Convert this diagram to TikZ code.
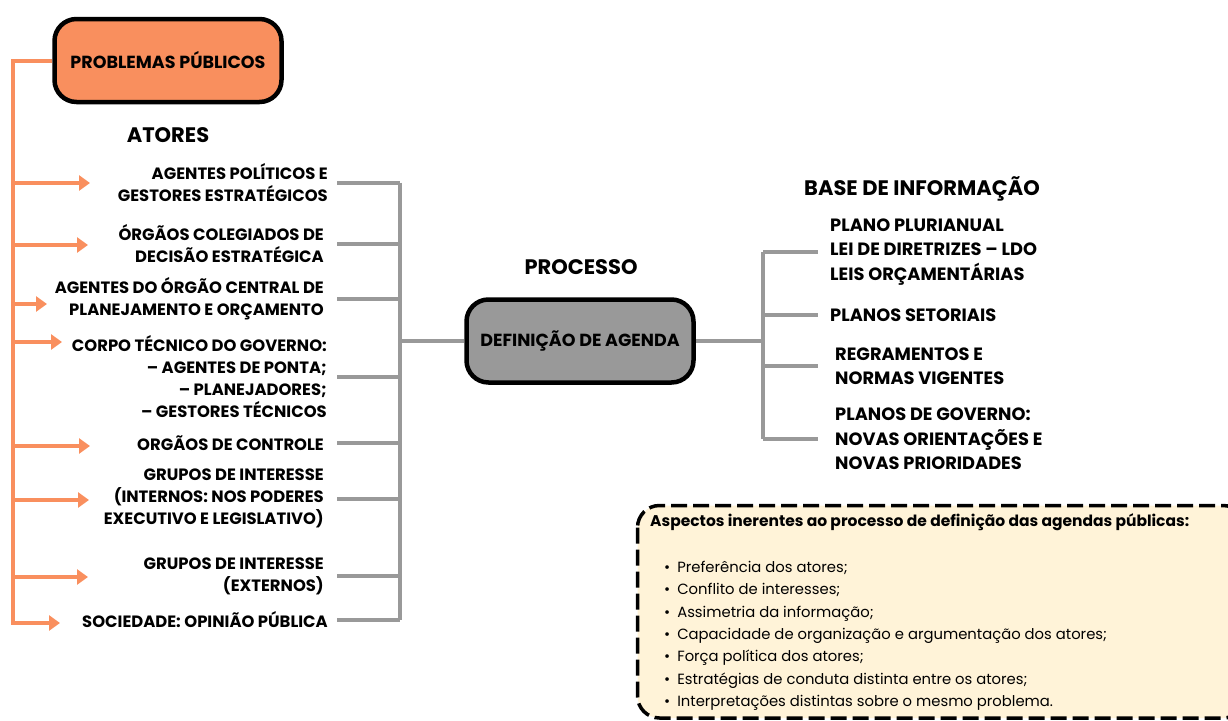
\documentclass[tikz,border=0pt]{standalone}
\usepackage{fontspec}
\setmainfont{Poppins}
\usetikzlibrary{arrows.meta}
\definecolor{laranja}{HTML}{F98F5E}
\definecolor{cinza}{HTML}{999999}
\definecolor{creme}{HTML}{FFF3D8}
\tikzset{
  caixa/.style={draw=black, line width=4.5pt, rounded corners=22pt,
                minimum width=227pt, minimum height=83pt,
                font=\bfseries\fontsize{17.5}{20}\selectfont},
  titulo/.style={font=\bfseries\fontsize{21}{24}\selectfont, inner sep=0pt},
  ator/.style={anchor=east, align=right, inner sep=0pt,
               font=\bfseries\fontsize{16.4}{22}\selectfont},
  base/.style={anchor=west, align=left, inner sep=0pt,
               font=\bfseries\fontsize{17.8}{24.5}\selectfont},
  seta/.style={laranja, line width=4pt, -{Triangle[length=11pt,width=15pt]}},
  liga/.style={cinza, line width=4pt}
}
\begin{document}
\begin{tikzpicture}[x=1pt, y=-1pt]
\useasboundingbox (0,0) rectangle (1228,720);
\clip (0,0) rectangle (1228,720);

\node[caixa, fill=laranja] (prob) at (168,60.5) {PROBLEMAS PÚBLICOS};
\node[titulo] (atores) at (168,135) {ATORES};

\node[ator] (agpol) at (328,182.5) {AGENTES POLÍTICOS E\\GESTORES ESTRATÉGICOS};
\node[ator] (orgcol) at (324,244) {ÓRGÃOS COLEGIADOS DE\\DECISÃO ESTRATÉGICA};
\node[ator] (agorc) at (324,299) {AGENTES DO ÓRGÃO CENTRAL DE\\PLANEJAMENTO E ORÇAMENTO};
\node[ator] (corpo) at (327,376.5) {CORPO TÉCNICO DO GOVERNO:\\– AGENTES DE PONTA;\\– PLANEJADORES;\\– GESTORES TÉCNICOS};
\node[ator] (controle) at (324,443) {ORGÃOS DE CONTROLE};
\node[ator] (gint) at (324,498.5) {GRUPOS DE INTERESSE\\(INTERNOS: NOS PODERES\\EXECUTIVO E LEGISLATIVO)};
\node[ator] (gext) at (324,576) {GRUPOS DE INTERESSE\\(EXTERNOS)};
\node[ator] (soc) at (328,620) {SOCIEDADE: OPINIÃO PÚBLICA};

\coordinate (tronco) at (13,60.5);
\draw[laranja, line width=4pt] (prob.west) -- (tronco) -- (13,625);
\draw[seta] (tronco |- 0,183) -- ++(77,0);
\draw[seta] (tronco |- 0,245) -- ++(75,0);
\draw[seta] (tronco |- 0,304) -- ++(34,0);
\draw[seta] (tronco |- 0,342) -- ++(49,0);
\draw[seta] (tronco |- 0,446) -- ++(77,0);
\draw[seta] (tronco |- 0,500) -- ++(76,0);
\draw[seta] (tronco |- 0,577) -- ++(75,0);
\draw[seta] (tronco |- 0,623) -- ++(47,0);

\node[titulo] (processo) at (581,267) {PROCESSO};
\node[caixa, fill=cinza] (agenda) at (580,341) {DEFINIÇÃO DE AGENDA};

\coordinate (barra) at (400,341);
\draw[liga] (barra |- agpol.east) -- (barra |- soc.east);
\draw[liga] (barra) -- (agenda.west);
\foreach \a in {agpol,orgcol,agorc,corpo,controle,gint,gext,soc}
  \draw[liga] ([xshift=9pt]\a.east -| soc.east) -- (barra |- \a.east);

\node[titulo] (info) at (922,189) {BASE DE INFORMAÇÃO};
\node[base] (ppa) at (830,252) {PLANO PLURIANUAL\\LEI DE DIRETRIZES – LDO\\LEIS ORÇAMENTÁRIAS};
\node[base] (setor) at (830,315) {PLANOS SETORIAIS};
\node[base] (regra) at (835,366) {REGRAMENTOS E\\NORMAS VIGENTES};
\node[base] (gov) at (835,439) {PLANOS DE GOVERNO:\\NOVAS ORIENTAÇÕES E\\NOVAS PRIORIDADES};

\coordinate (barra2) at (763,341);
\draw[liga] (agenda.east) -- (barra2);
\draw[liga] (barra2 |- ppa.west) -- (barra2 |- gov.west);
\foreach \b in {ppa,setor,regra,gov}
  \draw[liga] (barra2 |- \b.west) -- (818,0 |- \b.west);

\draw[line width=3.5pt, dash pattern=on 16pt off 6pt, rounded corners=22pt, fill=creme]
    (637.5,505.5) rectangle (1245,718);
\node[anchor=west, inner sep=0pt, font=\bfseries\fontsize{15.5}{18}\selectfont] (aspectos) at (650,522)
    {Aspectos inerentes ao processo de definição das agendas públicas:};
\node[anchor=north west, align=left, inner sep=0pt, font=\fontsize{14.8}{22.3}\selectfont] (lista) at (664,561)
    {•\hspace{7pt}Preferência dos atores;\\
     •\hspace{7pt}Conflito de interesses;\\
     •\hspace{7pt}Assimetria da informação;\\
     •\hspace{7pt}Capacidade de organização e argumentação dos atores;\\
     •\hspace{7pt}Força política dos atores;\\
     •\hspace{7pt}Estratégias de conduta distinta entre os atores;\\
     •\hspace{7pt}Interpretações distintas sobre o mesmo problema.};
\end{tikzpicture}
\end{document}
